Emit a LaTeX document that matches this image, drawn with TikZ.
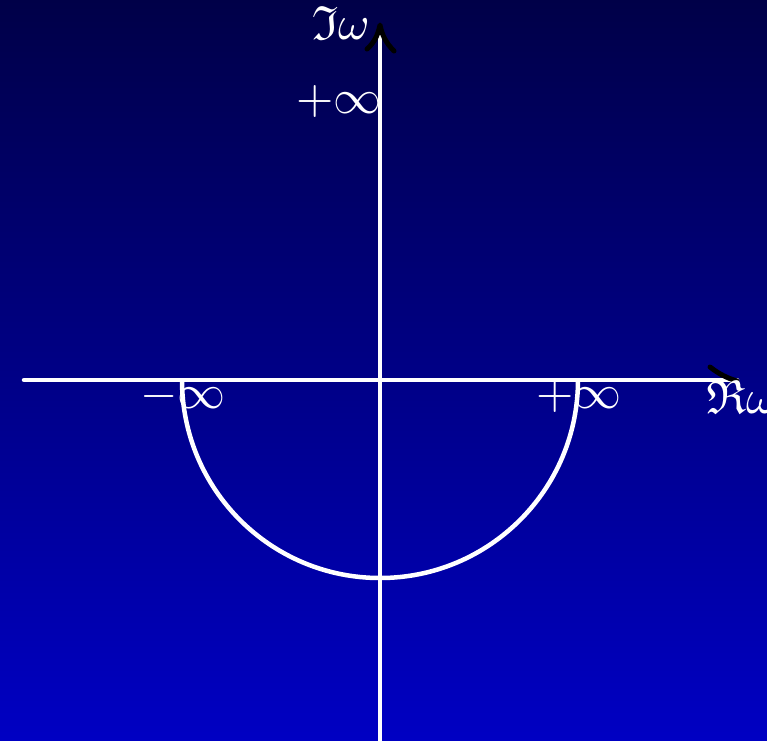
\documentclass[tikz,border=0pt]{standalone}
\usepackage{amssymb}
\definecolor{bgtop}{RGB}{0,0,72}
\definecolor{bgbot}{RGB}{0,0,195}
\tikzset{
  axisline/.style={white, line width=4.5pt},
  lbl/.style={text=white, scale=4.8, inner sep=0pt},
  tipstroke/.style={black, line width=5pt, line cap=round, line join=round},
}
\begin{document}
\begin{tikzpicture}[x=1pt,y=-1pt]
\useasboundingbox (0,0) rectangle (767,740);
\shade[top color=bgtop, bottom color=bgbot] (0,0) rectangle (767,740);
\coordinate (xl) at (24,380);
\coordinate (xr) at (737,380);
\coordinate (yb) at (380,742);
\coordinate (yt) at (380,25);
\coordinate (o) at (380,380);
\coordinate (ml) at (182,380);
\coordinate (mr) at (578,380);
\draw[axisline, line cap=round] (xl) -- (xr);
\draw[axisline] (yb) -- (yt);
\draw[axisline] (ml) arc[start angle=180, end angle=0, radius=198];
% arrow tips (black)
\draw[tipstroke, shift={(yt)}] (-13,24) .. controls (-6,18) and (-2,10) .. (0,0) .. controls (2,10) and (6,18) .. (14,26);
\draw[tipstroke, shift={(xr)}] (-27,-13) .. controls (-18,-6) and (-10,-2) .. (0,1);
\node[lbl] (im) at (341,23) {$\mathfrak{I}\omega$};
\node[lbl] (pinfy) at (339,101) {$+\infty$};
\node[lbl] (minfx) at (183,396) {$-\infty$};
\node[lbl] (pinfx) at (579,396) {$+\infty$};
\node[lbl] (re) at (742,397) {$\mathfrak{R}\omega$};
\end{tikzpicture}
\end{document}
